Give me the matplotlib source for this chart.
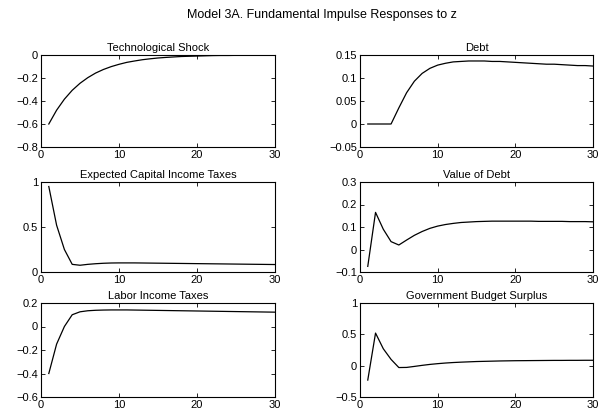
import numpy as np
import matplotlib
matplotlib.use('Agg')
import matplotlib.pyplot as plt

plt.rcParams['font.family'] = ['Liberation Sans', 'DejaVu Sans']

periods = list(range(1, 31))

tech_shock = [-0.600, -0.480, -0.384, -0.307, -0.246, -0.197, -0.157, -0.126, -0.101, -0.081,
              -0.064, -0.052, -0.041, -0.033, -0.026, -0.021, -0.017, -0.013, -0.011, -0.009,
              -0.007, -0.005, -0.004, -0.004, -0.003, -0.002, -0.002, -0.001, -0.001, -0.001]
debt = [0.000, 0.000, 0.000, 0.000, 0.035, 0.068, 0.093, 0.110, 0.121, 0.128,
        0.132, 0.135, 0.136, 0.137, 0.137, 0.137, 0.136, 0.136, 0.135, 0.134,
        0.133, 0.132, 0.131, 0.130, 0.130, 0.129, 0.128, 0.127, 0.127, 0.126]
cap_taxes = [0.950, 0.520, 0.250, 0.085, 0.075, 0.085, 0.092, 0.097, 0.100, 0.101,
             0.101, 0.101, 0.100, 0.099, 0.098, 0.097, 0.096, 0.095, 0.094, 0.093,
             0.092, 0.091, 0.090, 0.089, 0.088, 0.087, 0.086, 0.085, 0.084, 0.083]
debt_value = [-0.075, 0.165, 0.090, 0.035, 0.020, 0.042, 0.063, 0.080, 0.094, 0.104,
              0.111, 0.116, 0.120, 0.122, 0.124, 0.125, 0.126, 0.126, 0.126, 0.126,
              0.126, 0.126, 0.125, 0.125, 0.125, 0.125, 0.124, 0.124, 0.124, 0.123]
labor_taxes = [-0.400, -0.150, 0.000, 0.100, 0.125, 0.134, 0.138, 0.140, 0.141, 0.141,
               0.141, 0.140, 0.139, 0.138, 0.137, 0.136, 0.135, 0.134, 0.133, 0.132,
               0.131, 0.130, 0.129, 0.128, 0.127, 0.126, 0.125, 0.124, 0.123, 0.122]
surplus = [-0.230, 0.520, 0.270, 0.100, -0.030, -0.028, -0.012, 0.005, 0.020, 0.032,
           0.042, 0.050, 0.056, 0.061, 0.066, 0.069, 0.072, 0.075, 0.077, 0.079,
           0.080, 0.081, 0.082, 0.083, 0.084, 0.084, 0.085, 0.085, 0.086, 0.086]

panels = [
    ("Technological Shock", tech_shock, (-0.8, 0), [-0.8, -0.6, -0.4, -0.2, 0], ['−0.8', '−0.6', '−0.4', '−0.2', '0']),
    ("Debt", debt, (-0.05, 0.15), [-0.05, 0, 0.05, 0.1, 0.15], ['−0.05', '0', '0.05', '0.1', '0.15']),
    ("Expected Capital Income Taxes", cap_taxes, (0, 1), [0, 0.5, 1], ['0', '0.5', '1']),
    ("Value of Debt", debt_value, (-0.1, 0.3), [-0.1, 0, 0.1, 0.2, 0.3], ['−0.1', '0', '0.1', '0.2', '0.3']),
    ("Labor Income Taxes", labor_taxes, (-0.6, 0.2), [-0.6, -0.4, -0.2, 0, 0.2], ['−0.6', '−0.4', '−0.2', '0', '0.2']),
    ("Government Budget Surplus", surplus, (-0.5, 1), [-0.5, 0, 0.5, 1], ['−0.5', '0', '0.5', '1']),
]

W, H = 603, 416
fig = plt.figure(figsize=(W / 100, H / 100), dpi=100)

lefts = [41, 360]
widths = [234, 233]
rows = [(55, 147), (182, 272), (303, 397)]

for i, (title, vals, ylim, yt, ytl) in enumerate(panels):
    r, c = divmod(i, 2)
    top, bot = rows[r]
    ax = fig.add_axes([lefts[c] / W, 1 - bot / H, widths[c] / W, (bot - top) / H])
    ax.plot(periods, vals, color='black', linewidth=0.9)
    ax.set_xlim(0, 30)
    ax.set_ylim(*ylim)
    ax.set_xticks([0, 10, 20, 30])
    ax.set_yticks(yt)
    ax.set_yticklabels(ytl)
    ax.tick_params(direction='in', top=True, right=True, labelsize=8, length=3, width=0.6, pad=2)
    for s in ax.spines.values():
        s.set_linewidth(0.8)
    ax.set_title(title, fontsize=8, pad=3)

fig.text(322 / W, 1 - 15 / H, "Model 3A. Fundamental Impulse Responses to z",
         ha='center', va='center', fontsize=9)

fig.savefig('out.png', dpi=100)
